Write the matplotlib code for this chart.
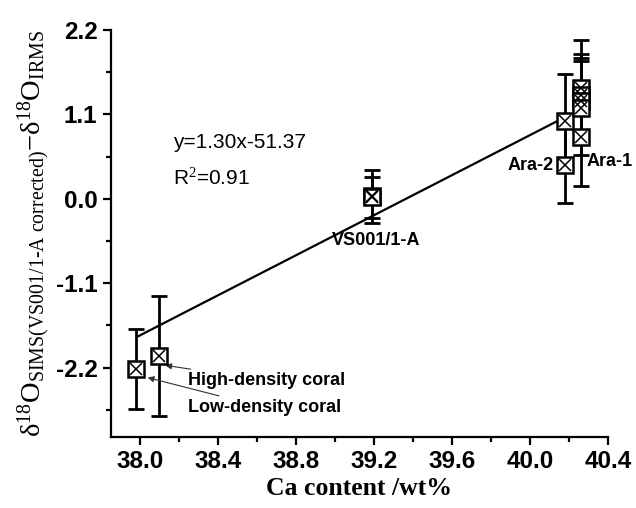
import numpy as np
import matplotlib.pyplot as plt
from matplotlib.ticker import MultipleLocator, AutoMinorLocator

plt.rcParams['mathtext.fontset'] = 'custom'
plt.rcParams['mathtext.rm'] = 'Liberation Serif'
plt.rcParams['mathtext.it'] = 'Liberation Serif:italic'
plt.rcParams['mathtext.bf'] = 'Liberation Serif:bold'

# Ca content (wt%) and d18O offset with 2-sigma errors
ca = [37.98, 38.10, 39.19, 39.19, 40.18, 40.18, 40.26, 40.26, 40.26, 40.26, 40.26]
d18o = [-2.22, -2.05, 0.03, 0.02, 1.01, 0.44, 1.44, 1.35, 1.27, 1.18, 0.80]
err = [0.52, 0.78, 0.34, 0.27, 0.62, 0.50, 0.63, 0.54, 0.56, 0.61, 0.63]

# linear fit
slope = 1.305
intercept = -51.37
r2 = 0.91
fit_x = [37.985, 40.15]

sample_labels = ['VS001/1-A', 'Ara-2', 'Ara-1']
sample_label_pos = [(39.21, -0.54, 'center'), (40.12, 0.44, 'right'), (40.29, 0.48, 'left')]
coral_labels = ['High-density coral', 'Low-density coral']
coral_text_pos = [(38.245, -2.37), (38.245, -2.72)]
coral_arrow_tip = [(38.13, -2.17), (38.04, -2.33)]

fig = plt.figure(figsize=(6.36, 5.08), dpi=100)
ax = fig.add_axes([0.174, 0.1404, 0.782, 0.8006])

fx = np.array(fit_x)
ax.plot(fx, slope * fx + intercept, color='black', lw=1.6, zorder=2)

ax.errorbar(ca, d18o, yerr=err, fmt='none', ecolor='black', elinewidth=2,
            capsize=6, capthick=2, zorder=3)
ax.plot(ca, d18o, 's', ms=11.5, mfc='white', mec='black', mew=1.8, zorder=4)
ax.plot(ca, d18o, 'x', ms=8.5, mec='black', mew=1.1, zorder=5)

ax.text(38.17, 0.73, f'y={slope:.2f}x{intercept:.2f}', fontsize=15,
        family='Liberation Sans', va='center')
ax.text(38.17, 0.27, f'R$^2$={r2:.2f}', fontsize=15,
        family='Liberation Sans', va='center')

for name, (x, y, ha) in zip(sample_labels, sample_label_pos):
    ax.text(x, y, name, fontsize=13, fontweight='bold',
            family='Liberation Sans', ha=ha, va='center')

for name, (tx, ty), tip in zip(coral_labels, coral_text_pos, coral_arrow_tip):
    ax.annotate(name, xy=tip, xytext=(tx, ty), fontsize=13, fontweight='bold',
                family='Liberation Sans', va='center', ha='left',
                arrowprops=dict(arrowstyle='-|>', color='#333333', lw=0.8,
                                shrinkA=1, shrinkB=0, mutation_scale=9))

ax.set_xlim(37.85, 40.4)
ax.set_ylim(-3.1, 2.2)
ax.xaxis.set_major_locator(MultipleLocator(0.4))
ax.xaxis.set_minor_locator(AutoMinorLocator(2))
ax.yaxis.set_major_locator(MultipleLocator(1.1))
ax.yaxis.set_minor_locator(AutoMinorLocator(2))
ax.xaxis.set_major_formatter(plt.FormatStrFormatter('%.1f'))
ax.yaxis.set_major_formatter(plt.FormatStrFormatter('%.1f'))

for side in ['top', 'right']:
    ax.spines[side].set_visible(False)
for side in ['left', 'bottom']:
    ax.spines[side].set_linewidth(1.6)
ax.tick_params(which='major', direction='out', length=6, width=1.6)
ax.tick_params(which='minor', direction='out', length=3.5, width=1.6)
for lbl in ax.get_xticklabels() + ax.get_yticklabels():
    lbl.set_family('Liberation Sans')
    lbl.set_fontweight('bold')
    lbl.set_fontsize(17.5)

ax.set_xlabel('Ca content /wt%', family='Liberation Serif', fontweight='bold',
              fontsize=18.5, labelpad=3)
ax.set_ylabel(r'$\mathrm{\delta^{18}O_{SIMS(VS001/1\text{-}A\ corrected)}{-}\delta^{18}O_{IRMS}}$',
              fontsize=20.5, labelpad=2)

fig.savefig('out.png', dpi=100)
